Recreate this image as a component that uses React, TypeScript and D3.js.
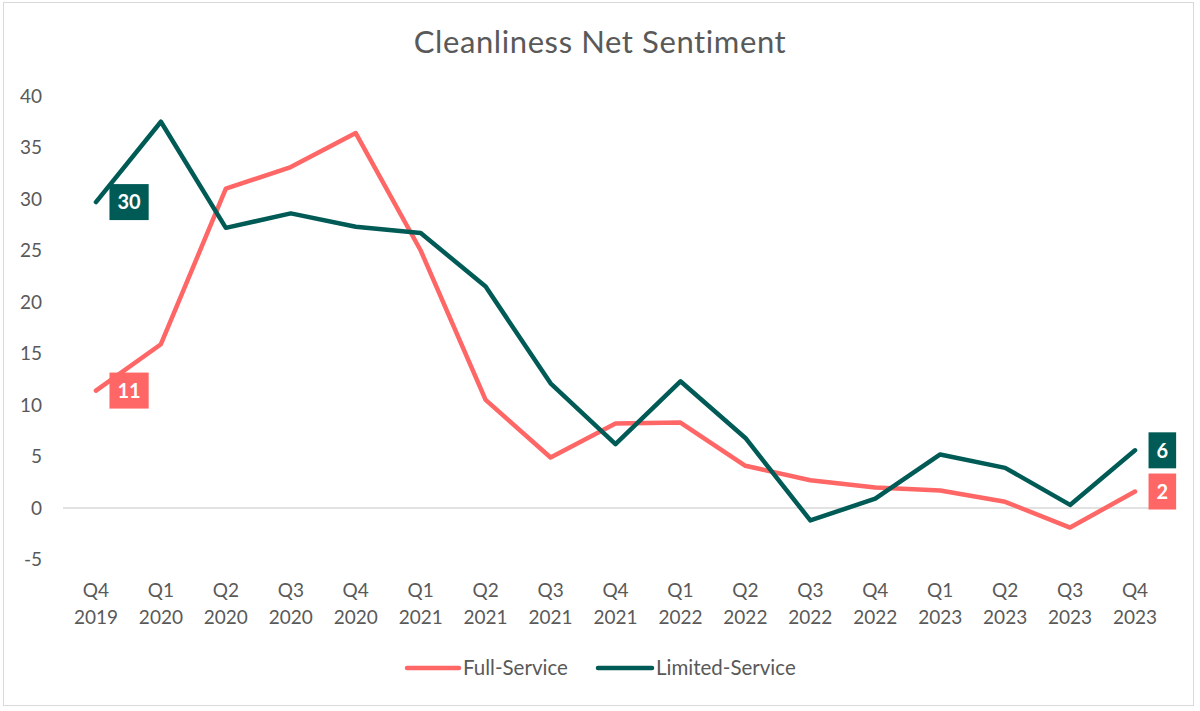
import React, { useEffect, useRef } from "react";
import * as d3 from "d3";

const quarters = ["Q4", "Q1", "Q2", "Q3", "Q4", "Q1", "Q2", "Q3", "Q4", "Q1", "Q2", "Q3", "Q4", "Q1", "Q2", "Q3", "Q4"];
const years = ["2019", "2020", "2020", "2020", "2020", "2021", "2021", "2021", "2021", "2022", "2022", "2022", "2022", "2023", "2023", "2023", "2023"];
const fullService = [11.4, 15.9, 31.0, 33.1, 36.4, 25.0, 10.5, 4.9, 8.2, 8.3, 4.1, 2.7, 2.0, 1.7, 0.6, -1.9, 1.6];
const limitedService = [29.7, 37.5, 27.2, 28.6, 27.3, 26.7, 21.5, 12.1, 6.2, 12.3, 6.8, -1.2, 0.9, 5.2, 3.9, 0.3, 5.6];
const yTicks = [-5, 0, 5, 10, 15, 20, 25, 30, 35, 40];
const seriesNames = ["Full-Service", "Limited-Service"];
const titleText = "Cleanliness Net Sentiment";

const RED = "#FF6666";
const GREEN = "#005B56";
const TEXT = "#595959";
const FONT = "Lato, 'Open Sans', sans-serif";

export default function App() {
  const ref = useRef<SVGSVGElement | null>(null);

  useEffect(() => {
    const svg = d3.select(ref.current);
    svg.selectAll("*").remove();

    const W = 1200, H = 711;
    const cats = quarters.map((q, i) => `${q} ${years[i]}`);
    const x = d3.scalePoint<string>().domain(cats).range([63.5, 1167.5]).padding(0.5);
    const y = d3.scaleLinear().domain([0, 40]).range([508, 96]);

    svg.append("rect").attr("x", 0).attr("y", 0).attr("width", W).attr("height", H).attr("fill", "#fff");
    svg.append("rect").attr("x", 3.5).attr("y", 2.5).attr("width", 1190).attr("height", 703)
      .attr("fill", "none").attr("stroke", "#d9d9d9").attr("stroke-width", 1);

    // title
    svg.append("text").attr("x", 600).attr("y", 53).attr("text-anchor", "middle")
      .attr("font-family", FONT).attr("font-size", 31).attr("letter-spacing", 0.6)
      .attr("fill", TEXT).text(titleText);

    // y tick labels
    svg.append("g").selectAll("text").data(yTicks).join("text")
      .attr("x", 42).attr("y", d => y(d)).attr("dy", "0.35em").attr("text-anchor", "end")
      .attr("font-family", FONT).attr("font-size", 19).attr("fill", TEXT)
      .text(d => String(d));

    // zero line
    svg.append("line").attr("x1", 63).attr("x2", 1167).attr("y1", y(0)).attr("y2", y(0))
      .attr("stroke", "#d9d9d9").attr("stroke-width", 1.5);

    // x labels
    const xl = svg.append("g");
    cats.forEach((c, i) => {
      const t = xl.append("text").attr("x", x(c)!).attr("text-anchor", "middle")
        .attr("font-family", FONT).attr("font-size", 19).attr("fill", TEXT);
      t.append("tspan").attr("x", x(c)!).attr("y", 597).text(quarters[i]);
      t.append("tspan").attr("x", x(c)!).attr("y", 624).text(years[i]);
    });

    const line = d3.line<number>().x((_, i) => x(cats[i])!).y(d => y(d));
    const series = [
      { name: seriesNames[0], values: fullService, color: RED },
      { name: seriesNames[1], values: limitedService, color: GREEN },
    ];
    series.forEach(s => {
      svg.append("path").attr("d", line(s.values)!).attr("fill", "none")
        .attr("stroke", s.color).attr("stroke-width", 4.5)
        .attr("stroke-linejoin", "round").attr("stroke-linecap", "round");
    });

    // data labels on first and last points
    series.forEach(s => {
      [0, s.values.length - 1].forEach(i => {
        const v = s.values[i];
        const px = x(cats[i])!;
        const py = y(v);
        const g = svg.append("g");
        const rect = g.append("rect").attr("fill", s.color);
        const t = g.append("text").attr("font-family", FONT).attr("font-weight", 700)
          .attr("font-size", 20).attr("fill", "#fff").attr("text-anchor", "middle")
          .attr("dy", "0.36em").text(String(Math.round(v)));
        const tw = (t.node() as SVGTextElement).getComputedTextLength();
        const bw = tw + 16;
        const bx = px + 13.5;
        rect.attr("x", bx).attr("y", py - 18).attr("width", bw).attr("height", 36);
        t.attr("x", bx + bw / 2).attr("y", py);
      });
    });

    // legend
    const lg = svg.append("g");
    const legendItems = [
      { name: seriesNames[0], color: RED, x0: 407, x1: 459, tx: 463 },
      { name: seriesNames[1], color: GREEN, x0: 598, x1: 652, tx: 656 },
    ];
    legendItems.forEach(it => {
      lg.append("line").attr("x1", it.x0).attr("x2", it.x1).attr("y1", 668).attr("y2", 668)
        .attr("stroke", it.color).attr("stroke-width", 4.5).attr("stroke-linecap", "round");
      lg.append("text").attr("x", it.tx).attr("y", 668).attr("dy", "0.35em")
        .attr("font-family", FONT).attr("font-size", 20.5).attr("fill", TEXT).text(it.name);
    });
  }, []);

  return (
    <svg ref={ref} width={1200} height={711} style={{ display: "block", position: "absolute", left: 0, top: 0 }} />
  );
}
